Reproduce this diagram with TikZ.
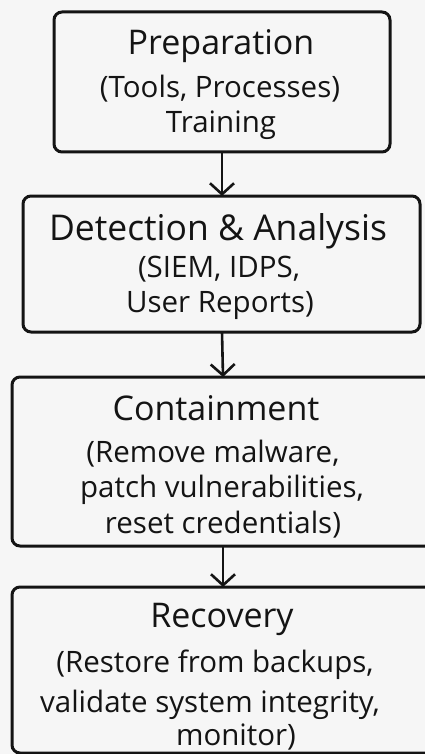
\documentclass[tikz,border=0pt]{standalone}
\usepackage{fontspec}
\setmainfont{Open Sans}
\usetikzlibrary{arrows.meta}
\definecolor{paper}{HTML}{F6F6F6}
\definecolor{ink}{HTML}{141414}
\tikzset{
  stagebox/.style={draw=ink, line width=3pt, rounded corners=8pt, fill=paper},
  title/.style={anchor=base, inner sep=0pt, text=ink, font=\fontsize{34}{34}\selectfont},
  body/.style={anchor=base, inner sep=0pt, text=ink, font=\fontsize{29.5}{29.5}\selectfont},
  flow/.style={draw=ink, line width=2.6pt, -{Straight Barb[length=11pt, width=24pt, line width=2.6pt]}}
}
\begin{document}
\begin{tikzpicture}[x=1pt, y=-1pt]
  \useasboundingbox (0,0) rectangle (425,754);
  \clip (0,0) rectangle (425,754);
  \fill[paper] (0,0) rectangle (425,754);

  % stage boxes (the lower two run past the right edge)
  \draw[stagebox] (54,12) rectangle (390,152);
  \coordinate (prepTop) at (222,12);  \coordinate (prepBot) at (222,152);
  \draw[stagebox] (23,196) rectangle (420,332);
  \coordinate (detTop) at (222,196);  \coordinate (detBot) at (222,332);
  \draw[stagebox] (12,377) rectangle (440,546);
  \coordinate (conTop) at (223,377);  \coordinate (conBot) at (223,546);
  \draw[stagebox] (12,587) rectangle (440,753);
  \coordinate (recTop) at (223,587);

  % Preparation
  \node[title] (t1) at (221,55) {Preparation};
  \node[body] (t1a) at (220,98) {(Tools, Processes)};
  \node[body] (t1b) at (221,133) {Training};
  % Detection & Analysis
  \node[title, font=\fontsize{35.5}{35.5}\selectfont] (t2) at (218,240) {Detection \& Analysis};
  \node[body] (t2a) at (219,277) {(SIEM, IDPS,};
  \node[body] (t2b) at (220,312) {User Reports)};
  % Containment
  \node[title] (t3) at (216,420) {Containment};
  \node[body] (t3a) at (213,462) {(Remove malware,};
  \node[body] (t3b) at (222,497) {patch vulnerabilities,};
  \node[body] (t3c) at (223,533) {reset credentials)};
  % Recovery
  \node[title] (t4) at (222,627) {Recovery};
  \node[body] (t4a) at (215,672) {(Restore from backups,};
  \node[body] (t4b) at (210,712) {validate system integrity,};
  \node[body] (t4c) at (236,745) {monitor)};

  % connectors
  \draw[flow] (prepBot) -- (detTop);
  \draw[flow] (detBot) -- (conTop);
  \draw[flow] (conBot) -- (recTop);
\end{tikzpicture}
\end{document}
